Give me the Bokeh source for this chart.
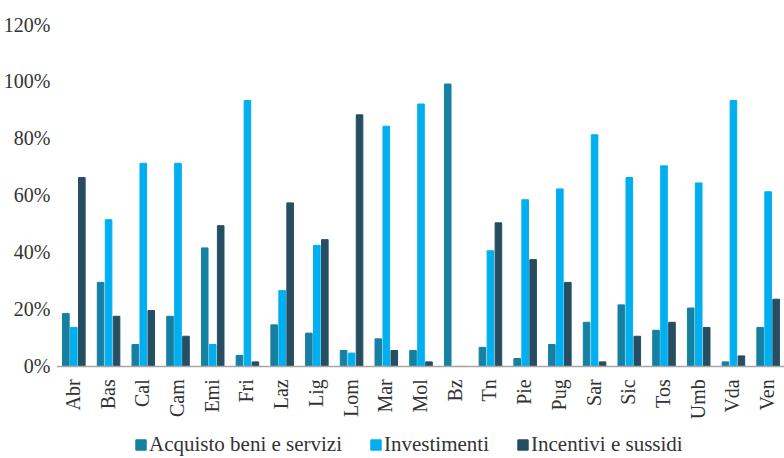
import math
from bokeh.plotting import figure
from bokeh.models import (ColumnDataSource, FactorRange, Range1d, FixedTicker, Legend,
                          LegendItem, Span)
from bokeh.core.properties import value
from bokeh.transform import dodge
from bokeh.embed import file_html
from bokeh.resources import INLINE

regions = ["Abr", "Bas", "Cal", "Cam", "Emi", "Fri", "Laz", "Lig", "Lom", "Mar", "Mol",
           "Bz", "Tn", "Pie", "Pug", "Sar", "Sic", "Tos", "Umb", "Vda", "Ven"]
acquisto = [18.6, 29.5, 7.7, 17.6, 41.6, 3.9, 14.6, 11.7, 5.6, 9.7, 5.6,
            99.1, 6.7, 2.8, 7.7, 15.5, 21.6, 12.7, 20.5, 1.6, 13.7]
investimenti = [13.7, 51.5, 71.3, 71.3, 7.7, 93.3, 26.6, 42.5, 4.7, 84.3, 92.1,
                0, 40.6, 58.5, 62.3, 81.3, 66.3, 70.4, 64.4, 93.3, 61.3]
incentivi = [66.3, 17.6, 19.6, 10.6, 49.4, 1.6, 57.4, 44.5, 88.3, 5.6, 1.6,
             0, 50.4, 37.5, 29.5, 1.6, 10.6, 15.5, 13.7, 3.7, 23.6]
y_ticks = [0, 20, 40, 60, 80, 100, 120]
series_names = ["Acquisto beni e servizi", "Investimenti", "Incentivi e sussidi"]
colors = ["#1580A2", "#00AFEF", "#254E62"]

src = ColumnDataSource(dict(reg=regions, acq=acquisto, inv=investimenti, inc=incentivi))

FONT = "Liberation Serif"
FS = "20px"
TXT = "#333333"

# frame extends below the 0 baseline to hold the category labels and the legend
p = figure(frame_width=729, frame_height=433, output_backend="svg", toolbar_location=None,
           x_range=FactorRange(factors=regions, range_padding=0),
           y_range=Range1d(-31.95, 120),
           min_border_left=47, min_border_right=0, min_border_top=24, min_border_bottom=0)
p.outline_line_color = None
p.grid.grid_line_color = None
p.background_fill_color = "white"
p.border_fill_color = "white"
p.xaxis.visible = False

w = 0.19
off = 0.23
r1 = p.vbar(x=dodge("reg", -off, range=p.x_range), top="acq", width=w, source=src, color=colors[0])
r2 = p.vbar(x=dodge("reg", 0, range=p.x_range), top="inv", width=w, source=src, color=colors[1])
r3 = p.vbar(x=dodge("reg", off, range=p.x_range), top="inc", width=w, source=src, color=colors[2])

# baseline (category axis line)
p.add_layout(Span(location=0, dimension="width", line_color="#A6A6A6", line_width=1.5))

# category labels, vertical, reading upward
p.text(x=dodge("reg", 0, range=p.x_range), y=-4.5, text="reg", source=src,
       angle=math.pi / 2, text_align="right", text_baseline="middle", x_offset=-1,
       text_font=value(FONT), text_font_size=FS, text_color=TXT)

p.yaxis.ticker = FixedTicker(ticks=y_ticks)
p.yaxis.major_label_overrides = {t: f"{t}%" for t in y_ticks}
p.yaxis.axis_line_color = None
p.yaxis.major_tick_line_color = None
p.yaxis.minor_tick_line_color = None
p.yaxis.major_label_standoff = 0
p.yaxis.major_label_text_font = FONT
p.yaxis.major_label_text_font_size = FS
p.yaxis.major_label_text_color = TXT

legend = Legend(items=[LegendItem(label=series_names[0], renderers=[r1]),
                       LegendItem(label=series_names[1], renderers=[r2]),
                       LegendItem(label=series_names[2], renderers=[r3])],
                orientation="horizontal", location=(78, 0),
                label_text_font=FONT, label_text_font_size="21px", label_text_color=TXT,
                glyph_width=13, glyph_height=13, label_standoff=2, spacing=27,
                label_height=13, padding=0, margin=0, border_line_color=None,
                background_fill_alpha=0)
p.add_layout(legend, "center")

open("out.html", "w").write(file_html(p, INLINE))
